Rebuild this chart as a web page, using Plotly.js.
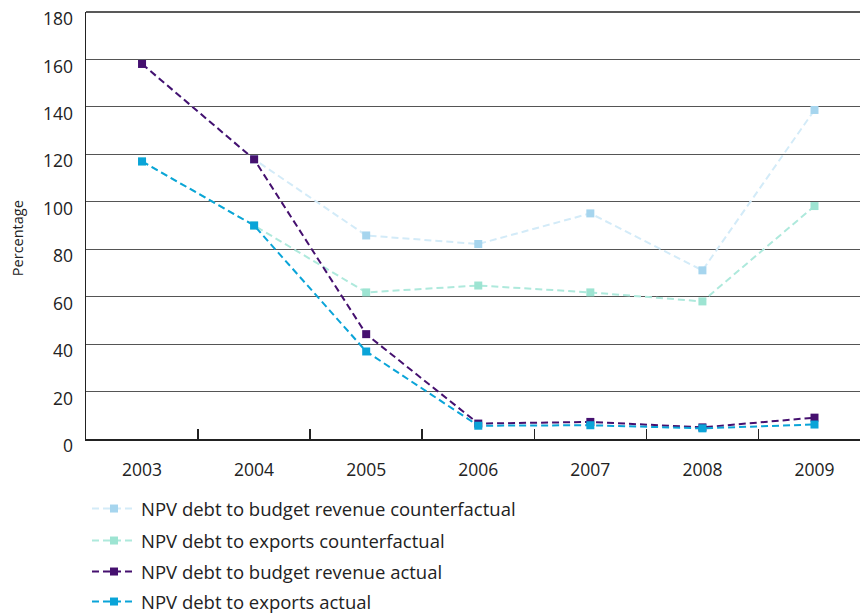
<!DOCTYPE html>
<html>
<head>
<meta charset="utf-8">
<script src="https://cdn.plot.ly/plotly-3.0.1.min.js"></script>
<style>html,body{margin:0;padding:0;background:#fff;}#chart{width:860px;height:615px;}</style>
</head>
<body>
<div id="chart"></div>
<script>
const years = ['2003', '2004', '2005', '2006', '2007', '2008', '2009'];
const budgetCounterfactual = [158.1, 117.9, 85.8, 82.2, 95.1, 71.1, 138.7];
const exportsCounterfactual = [117.0, 90.0, 61.8, 64.7, 61.8, 58.0, 98.2];
const budgetActual = [158.1, 117.9, 44.2, 6.5, 7.2, 4.9, 9.0];
const exportsActual = [117.0, 90.0, 36.9, 5.6, 5.8, 4.5, 6.1];
const seriesNames = [
  'NPV debt to budget revenue counterfactual',
  'NPV debt to exports counterfactual',
  'NPV debt to budget revenue actual',
  'NPV debt to exports actual'
];
const yTickVals = [0, 20, 40, 60, 80, 100, 120, 140, 160, 180];

const FONT = 'Open Sans, Noto Sans, sans-serif';
const DASH = '7px,4px';

function trace(y, name, lineColor, markerColor, legendId) {
  return {
    type: 'scatter', mode: 'lines+markers', x: years, y: y, name: name,
    line: {color: lineColor, width: 2, dash: DASH},
    marker: {symbol: 'square', size: 8, color: markerColor},
    legend: legendId, cliponaxis: false, hoverinfo: 'x+y+name'
  };
}

const data = [
  trace(budgetCounterfactual, seriesNames[0], '#d3ebf8', '#a6d5ee', 'legend'),
  trace(exportsCounterfactual, seriesNames[1], '#aee9dc', '#9de4d2', 'legend2'),
  trace(budgetActual, seriesNames[2], '#45106f', '#45106f', 'legend3'),
  trace(exportsActual, seriesNames[3], '#0aa4d8', '#0aa4d8', 'legend4')
];

function leg(ypx) {
  return {
    xref: 'container', yref: 'container', x: 87 / 860, y: 1 - ypx / 615,
    xanchor: 'left', yanchor: 'middle', bgcolor: 'rgba(0,0,0,0)',
    font: {family: FONT, size: 18.5, color: '#222'}, itemwidth: 44
  };
}

const layout = {
  width: 860, height: 615,
  margin: {l: 86, r: 0, t: 12, b: 176, pad: 0, autoexpand: false},
  paper_bgcolor: '#fff', plot_bgcolor: '#fff',
  font: {family: FONT, size: 17.5, color: '#222'},
  showlegend: true,
  xaxis: {
    type: 'category', range: [-0.5, 6.406], tickson: 'boundaries',
    ticks: 'inside', ticklen: 10, tickwidth: 1.5, tickcolor: '#222',
    showgrid: false, showline: true, linecolor: '#222', linewidth: 2,
    ticklabelstandoff: 14, tickfont: {family: FONT, size: 17.5, color: '#222'},
    zeroline: false, fixedrange: true, automargin: false
  },
  yaxis: {
    range: [0, 180], tickvals: yTickVals, ticks: '',
    showgrid: true, gridcolor: '#555', gridwidth: 1.2,
    showline: true, linecolor: '#222', linewidth: 1.5, zeroline: false,
    ticklabelstandoff: 8, ticklabelshift: 7, ticklabeloverflow: 'allow',
    tickfont: {family: FONT, size: 17.5, color: '#222'}, fixedrange: true, automargin: false
  },
  shapes: [
    {type: 'line', xref: 'paper', yref: 'paper', x0: 0, x1: 1, y0: 1, y1: 1,
     line: {color: '#222', width: 1.5}}
  ],
  annotations: [
    {text: 'Percentage', xref: 'paper', yref: 'paper', x: (17 - 86) / 774, y: (438.7 - 238) / 426.7,
     xanchor: 'center', yanchor: 'middle', textangle: -90, showarrow: false,
     font: {family: FONT, size: 14.5, color: '#222'}}
  ],
  legend: leg(509),
  legend2: leg(541),
  legend3: leg(572),
  legend4: leg(602)
};

Plotly.newPlot('chart', data, layout, {displayModeBar: false, staticPlot: true});
</script>
</body>
</html>
